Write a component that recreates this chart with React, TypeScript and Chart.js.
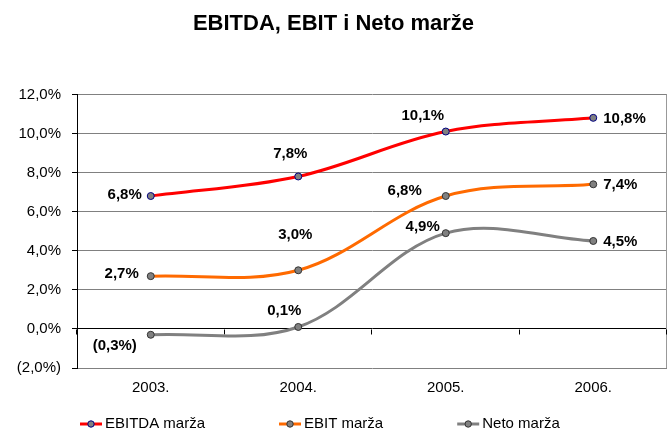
import React, { useEffect, useRef } from "react";
import { Chart, registerables } from "chart.js";

Chart.register(...registerables);

const categories = ["2003.", "2004.", "2005.", "2006."];
const ebitdaValues = [6.8, 7.8, 10.1, 10.8];
const ebitValues = [2.7, 3.0, 6.8, 7.4];
const netoValues = [-0.3, 0.1, 4.9, 4.5];
const seriesNames = ["EBITDA marža", "EBIT marža", "Neto marža"];
const titleText = "EBITDA, EBIT i Neto marže";
const yMin = -2;
const yMax = 12;
const yStep = 2;

const FONT = "'Liberation Sans', Arial, Helvetica, sans-serif";

// label placement style per series/point: [align, dx, dy]
const labelPlacement: [CanvasTextAlign, number, number][][] = [
  [["right", -9, -1], ["center", -8, -23], ["center", -23, -16], ["left", 10, 1]],
  [["right", -12, -2], ["center", -3, -35], ["right", -24, -5], ["left", 10, 1]],
  [["center", -36, 11], ["center", -14, -16], ["right", -6, -6], ["left", 10, 1]],
];

const fmtPct = (v: number) => {
  const s = Math.abs(v).toFixed(1).replace(".", ",") + "%";
  return v < 0 ? "(" + s + ")" : s;
};

const dataLabelsPlugin = {
  id: "dataLabels",
  afterDatasetsDraw(chart: any) {
    const ctx = chart.ctx;
    ctx.save();
    ctx.font = `bold 15px ${FONT}`;
    ctx.fillStyle = "#000";
    ctx.textBaseline = "middle";
    chart.data.datasets.forEach((ds: any, di: number) => {
      const meta = chart.getDatasetMeta(di);
      meta.data.forEach((pt: any, i: number) => {
        const [align, dx, dy] = labelPlacement[di][i];
        ctx.textAlign = align;
        ctx.fillText(fmtPct(ds.data[i]), pt.x + dx, pt.y + dy);
      });
    });
    ctx.restore();
  },
};

const framePlugin = {
  id: "frame",
  beforeDatasetsDraw(chart: any) {
    const { ctx, chartArea } = chart;
    const xs = chart.scales.x;
    const ys = chart.scales.y;
    ctx.save();
    ctx.strokeStyle = "#999";
    ctx.lineWidth = 1;
    ctx.beginPath();
    ctx.moveTo(Math.round(chartArea.right) - 0.5, chartArea.top);
    ctx.lineTo(Math.round(chartArea.right) - 0.5, chartArea.bottom);
    ctx.stroke();
    const y0 = Math.round(ys.getPixelForValue(0)) + 0.5;
    ctx.strokeStyle = "#000";
    ctx.beginPath();
    for (let i = 0; i <= categories.length; i++) {
      const x = Math.round(xs.getPixelForValue(i - 0.5)) - 0.5;
      ctx.moveTo(x, y0);
      ctx.lineTo(x, y0 + 5);
    }
    ctx.stroke();
    ctx.restore();
  },
};

const legendPlugin = {
  id: "customLegend",
  afterDraw(chart: any) {
    const ctx = chart.ctx;
    ctx.save();
    ctx.font = `15px ${FONT}`;
    ctx.textBaseline = "middle";
    ctx.textAlign = "left";
    const y = 424;
    let x = 80;
    chart.data.datasets.forEach((ds: any) => {
      ctx.strokeStyle = ds.borderColor;
      ctx.lineWidth = 3;
      ctx.beginPath();
      ctx.moveTo(x, y);
      ctx.lineTo(x + 22, y);
      ctx.stroke();
      ctx.beginPath();
      ctx.arc(x + 11, y, 3.2, 0, Math.PI * 2);
      ctx.fillStyle = ds.pointBackgroundColor;
      ctx.fill();
      ctx.lineWidth = 1;
      ctx.strokeStyle = ds.pointBorderColor;
      ctx.stroke();
      ctx.fillStyle = "#000";
      ctx.fillText(ds.label, x + 25, y);
      const w = ctx.measureText(ds.label).width;
      x = x + 25 + w + 74;
    });
    ctx.restore();
  },
};

export default function App() {
  const ref = useRef<HTMLCanvasElement>(null);
  useEffect(() => {
    document.body.style.margin = "0";
    const mk = (label: string, data: number[], color: string, pBorder: string) => ({
      label,
      data,
      borderColor: color,
      backgroundColor: color,
      borderWidth: 3,
      tension: 0.35,
      pointRadius: 3.5,
      pointBorderWidth: 1,
      pointBackgroundColor: "#808080",
      pointBorderColor: pBorder,
      fill: false,
    });
    const chart = new Chart(ref.current!, {
      type: "line",
      data: {
        labels: categories,
        datasets: [
          mk(seriesNames[0], ebitdaValues, "#FF0000", "#000080"),
          mk(seriesNames[1], ebitValues, "#FF6A00", "#333333"),
          mk(seriesNames[2], netoValues, "#808080", "#333333"),
        ],
      },
      options: {
        animation: false,
        responsive: false,
        maintainAspectRatio: false,
        layout: { padding: { left: 0, right: 5, top: 0, bottom: 34 } },
        plugins: {
          legend: { display: false },
          tooltip: { enabled: false },
          title: {
            display: true,
            text: titleText,
            color: "#000",
            font: { family: FONT, size: 22, weight: "bold" },
            padding: { top: 11, bottom: 57 },
          },
        },
        scales: {
          x: {
            offset: true,
            grid: { display: false, drawTicks: false },
            border: { display: false },
            ticks: { color: "#000", font: { family: FONT, size: 15 }, padding: 11 },
            afterFit: (s: any) => {
              s.height = 30;
            },
          },
          y: {
            min: yMin,
            max: yMax,
            grid: {
              color: (c: any) => (c.tick && c.tick.value === 0 ? "#000" : "#808080"),
              tickColor: "#000",
              tickLength: 5,
              lineWidth: 1,
            },
            border: { display: true, color: "#000", width: 1 },
            ticks: {
              stepSize: yStep,
              color: "#000",
              padding: 11,
              font: { family: FONT, size: 15 },
              callback: (v: any) => fmtPct(Number(v)),
            },
            afterFit: (s: any) => {
              s.width = 77;
            },
          },
        },
      },
      plugins: [framePlugin, dataLabelsPlugin, legendPlugin],
    });
    return () => chart.destroy();
  }, []);
  return (
    <div style={{ width: 672, height: 432 }}>
      <canvas ref={ref} width={672} height={432} style={{ display: "block" }} />
    </div>
  );
}
